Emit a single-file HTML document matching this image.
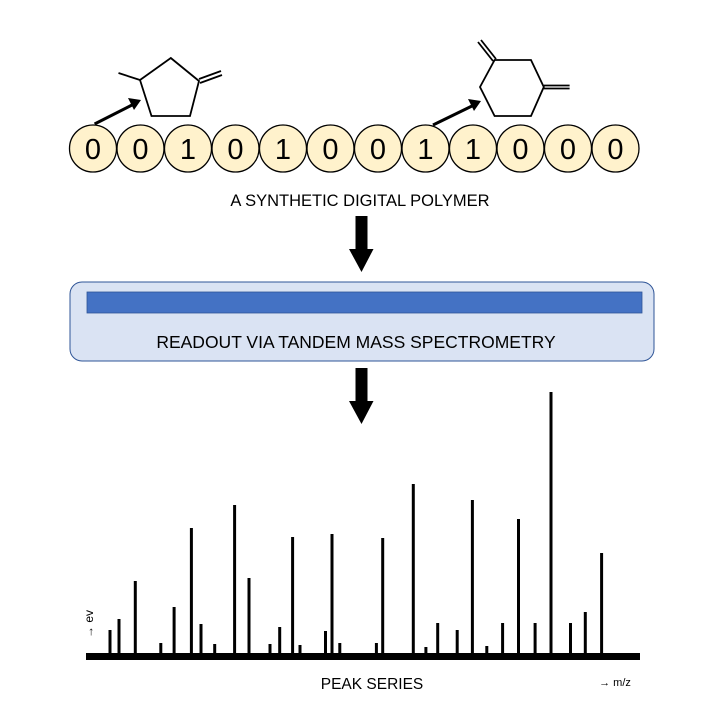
<!DOCTYPE html>
<html><head><meta charset="utf-8"><style>
html,body{margin:0;padding:0;background:#fff;}
svg{display:block;}
text{font-family:"Liberation Sans",sans-serif;}
</style></head><body>
<svg width="720" height="720" viewBox="0 0 720 720" xmlns="http://www.w3.org/2000/svg">
<g fill="none" stroke="#000" stroke-width="1.8">
<polygon points="170.8,58 199,81 190,116 151.5,116 140,80"/>
<line x1="140" y1="80" x2="118.5" y2="73"/>
<line x1="199" y1="79" x2="221" y2="71"/>
<line x1="200" y1="83" x2="222" y2="75"/>
<polygon points="494.6,60 531,60 543.8,87 531,116 494.6,116 480,87"/>
<line x1="493" y1="61" x2="478" y2="42"/>
<line x1="496" y1="59" x2="481" y2="40"/>
<line x1="543.8" y1="85.5" x2="569.6" y2="85.5"/>
<line x1="543.8" y1="88.5" x2="569.6" y2="88.5"/>
</g>
<g stroke="#000" stroke-width="3">
<line x1="94.6" y1="124" x2="132" y2="105"/>
<line x1="433" y1="125" x2="472" y2="106"/>
</g>
<polygon points="141,100 128,98 134,110" fill="#000"/>
<polygon points="481,101 468,99 474,111" fill="#000"/>
<g fill="#fff2cc" stroke="#000" stroke-width="1.3">
<ellipse cx="93" cy="148.5" rx="23.5" ry="23.5"/>
<ellipse cx="140.5" cy="148.5" rx="23.5" ry="23.5"/>
<ellipse cx="188" cy="148.5" rx="23.5" ry="23.5"/>
<ellipse cx="235.5" cy="148.5" rx="23.5" ry="23.5"/>
<ellipse cx="283" cy="148.5" rx="23.5" ry="23.5"/>
<ellipse cx="330.5" cy="148.5" rx="23.5" ry="23.5"/>
<ellipse cx="378" cy="148.5" rx="23.5" ry="23.5"/>
<ellipse cx="425.5" cy="148.5" rx="23.5" ry="23.5"/>
<ellipse cx="473" cy="148.5" rx="23.5" ry="23.5"/>
<ellipse cx="520.5" cy="148.5" rx="23.5" ry="23.5"/>
<ellipse cx="568" cy="148.5" rx="23.5" ry="23.5"/>
<ellipse cx="615.5" cy="148.5" rx="23.5" ry="23.5"/>
</g>
<g font-size="29" text-anchor="middle" fill="#000">
<text x="93" y="159">0</text><text x="140.5" y="159">0</text><text x="188" y="159">1</text>
<text x="235.5" y="159">0</text><text x="283" y="159">1</text><text x="330.5" y="159">0</text>
<text x="378" y="159">0</text><text x="425.5" y="159">1</text><text x="473" y="159">1</text>
<text x="520.5" y="159">0</text><text x="568" y="159">0</text><text x="615.5" y="159">0</text>
</g>
<text x="360" y="206" font-size="16.5" text-anchor="middle">A SYNTHETIC DIGITAL POLYMER</text>
<rect x="355.5" y="216" width="12" height="34" fill="#000"/>
<polygon points="349,249 373.5,249 361.5,272" fill="#000"/>
<rect x="355.5" y="368" width="12" height="34" fill="#000"/>
<polygon points="349,401 373.5,401 361.5,424" fill="#000"/>
<rect x="70" y="282" width="584" height="79" rx="12" fill="#dae3f3" stroke="#2f5597" stroke-width="1"/>
<rect x="87" y="292" width="555" height="21" fill="#4472c4" stroke="#2f5597" stroke-width="0.8"/>
<text x="356" y="348" font-size="17.5" text-anchor="middle">READOUT VIA TANDEM MASS SPECTROMETRY</text>
<g stroke="#000" stroke-width="3">
<line x1="110" y1="630" x2="110" y2="656"/>
<line x1="119" y1="619" x2="119" y2="656"/>
<line x1="135.3" y1="581" x2="135.3" y2="656"/>
<line x1="160.8" y1="643" x2="160.8" y2="656"/>
<line x1="174.1" y1="607" x2="174.1" y2="656"/>
<line x1="191.4" y1="528" x2="191.4" y2="656"/>
<line x1="201" y1="624" x2="201" y2="656"/>
<line x1="214.7" y1="644" x2="214.7" y2="656"/>
<line x1="234.6" y1="505" x2="234.6" y2="656"/>
<line x1="249" y1="578" x2="249" y2="656"/>
<line x1="270" y1="644" x2="270" y2="656"/>
<line x1="279.7" y1="627" x2="279.7" y2="656"/>
<line x1="292.6" y1="537" x2="292.6" y2="656"/>
<line x1="300" y1="645" x2="300" y2="656"/>
<line x1="325.5" y1="631" x2="325.5" y2="656"/>
<line x1="332" y1="534" x2="332" y2="656"/>
<line x1="339.8" y1="643" x2="339.8" y2="656"/>
<line x1="376.4" y1="643" x2="376.4" y2="656"/>
<line x1="382.7" y1="538" x2="382.7" y2="656"/>
<line x1="413.3" y1="484" x2="413.3" y2="656"/>
<line x1="425.9" y1="647" x2="425.9" y2="656"/>
<line x1="437.7" y1="623" x2="437.7" y2="656"/>
<line x1="457.2" y1="630" x2="457.2" y2="656"/>
<line x1="472.4" y1="500" x2="472.4" y2="656"/>
<line x1="486.8" y1="646" x2="486.8" y2="656"/>
<line x1="502.6" y1="623" x2="502.6" y2="656"/>
<line x1="518.5" y1="519" x2="518.5" y2="656"/>
<line x1="535.1" y1="623" x2="535.1" y2="656"/>
<line x1="551" y1="392" x2="551" y2="656"/>
<line x1="570.5" y1="623" x2="570.5" y2="656"/>
<line x1="585.3" y1="612" x2="585.3" y2="656"/>
<line x1="601.6" y1="553" x2="601.6" y2="656"/>
</g>
<rect x="86" y="653" width="554" height="7" fill="#000"/>
<text x="372" y="689" font-size="15.5" text-anchor="middle">PEAK SERIES</text>
<text x="615" y="686" font-size="11" text-anchor="middle">→ m/z</text>
<text transform="translate(93,638) rotate(-90)" font-size="12">→ ev</text>
</svg>
</body></html>
